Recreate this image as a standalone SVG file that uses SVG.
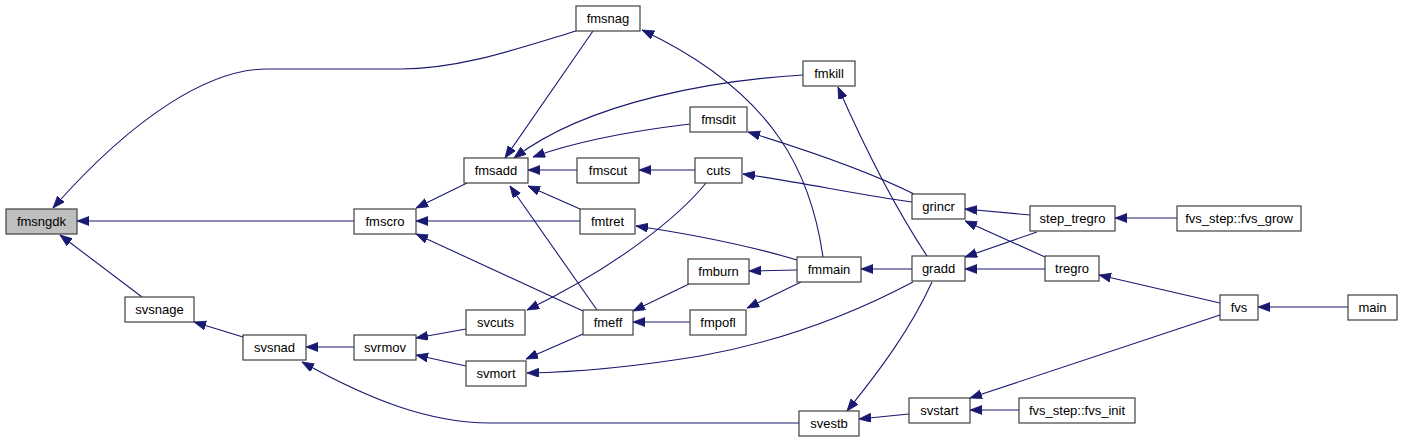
<svg xmlns="http://www.w3.org/2000/svg" width="1416" height="443" viewBox="0 0 1416 443">
<style>
.n rect{fill:#ffffff;stroke:#404040;stroke-width:1.2}
.n.g rect{fill:#bfbfbf}
.n text{font-family:"Liberation Sans",Arial,sans-serif;font-size:13px;fill:#000;text-anchor:middle}
#edges path{fill:none;stroke:#191970;stroke-width:1.1;marker-end:url(#ah)}
</style>
<defs>
<marker id="ah" markerUnits="userSpaceOnUse" markerWidth="13" markerHeight="10" refX="12" refY="4.5" orient="auto">
<path d="M0,0 L12,4.5 L0,9 z" fill="#191970" stroke="#191970" stroke-width="0.8"/>
</marker>
</defs>
<rect width="1416" height="443" fill="#ffffff"/>
<g id="edges">
<path d="M576,31 C520,48 460,69 400,69 L267,69 C210,69 135,115 53,208"/>
<path d="M354,221 L77,221"/>
<path d="M142,297 L60,235"/>
<path d="M467,183 L416,208"/>
<path d="M580,221 L416,221"/>
<path d="M583,311 L416,234"/>
<path d="M593,31 L505,158"/>
<path d="M803,75 C720,80 590,100 514,158"/>
<path d="M690,124 C640,130 580,140 533,157"/>
<path d="M577,170 L528,170"/>
<path d="M580,209 L528,186"/>
<path d="M597,310 L510,186"/>
<path d="M695,170 L639,170"/>
<path d="M706,183 C680,215 620,265 527,310"/>
<path d="M912,202 C860,195 800,182 743,174"/>
<path d="M914,194 C870,172 800,148 748,132"/>
<path d="M823,257 C812,180 780,95 642,30"/>
<path d="M927,256 C900,215 870,160 838,87"/>
<path d="M797,260 C750,246 690,234 636,226"/>
<path d="M797,270 L749,271"/>
<path d="M801,282 L747,308"/>
<path d="M689,284 L633,311"/>
<path d="M690,322 L633,322"/>
<path d="M583,334 L526,359"/>
<path d="M913,282 C860,310 790,340 700,356 C640,366 580,372 527,373"/>
<path d="M912,269 L861,269"/>
<path d="M932,282 C910,330 880,370 847,411"/>
<path d="M909,414 L859,419"/>
<path d="M799,423 L490,423 C430,423 370,400 302,362"/>
<path d="M354,347 L306,347"/>
<path d="M243,337 L194,322"/>
<path d="M466,329 L416,338"/>
<path d="M466,366 L416,355"/>
<path d="M1030,215 L965,209"/>
<path d="M1045,257 L965,221"/>
<path d="M1037,232 L965,257"/>
<path d="M1045,269 L965,269"/>
<path d="M1177,218 L1115,218"/>
<path d="M1220,303 L1099,275"/>
<path d="M1348,307 L1258,307"/>
<path d="M1220,315 L970,398"/>
<path d="M1019,410 L970,410"/>
</g>
<g id="fmsngdk" class="n g"><rect x="6" y="209" width="71" height="25"/><text x="41.5" y="226">fmsngdk</text></g>
<g id="fmscro" class="n"><rect x="354" y="209" width="62" height="25"/><text x="385" y="226">fmscro</text></g>
<g id="fmsnag" class="n"><rect x="576" y="6" width="64" height="25"/><text x="608" y="23">fmsnag</text></g>
<g id="fmkill" class="n"><rect x="803" y="61" width="52" height="25"/><text x="829" y="78">fmkill</text></g>
<g id="fmsdit" class="n"><rect x="690" y="107" width="57" height="25"/><text x="718.5" y="124">fmsdit</text></g>
<g id="fmsadd" class="n"><rect x="464" y="158" width="64" height="25"/><text x="496" y="175">fmsadd</text></g>
<g id="fmscut" class="n"><rect x="577" y="158" width="62" height="25"/><text x="608" y="175">fmscut</text></g>
<g id="cuts" class="n"><rect x="695" y="158" width="47" height="25"/><text x="718.5" y="175">cuts</text></g>
<g id="fmtret" class="n"><rect x="580" y="209" width="55" height="25"/><text x="607.5" y="226">fmtret</text></g>
<g id="grincr" class="n"><rect x="912" y="194" width="53" height="25"/><text x="938.5" y="211">grincr</text></g>
<g id="step_tregro" class="n"><rect x="1030" y="206" width="85" height="25"/><text x="1072.5" y="223">step_tregro</text></g>
<g id="fvs_grow" class="n"><rect x="1177" y="206" width="124" height="25"/><text x="1239" y="223">fvs_step::fvs_grow</text></g>
<g id="gradd" class="n"><rect x="912" y="256" width="53" height="25"/><text x="938.5" y="273">gradd</text></g>
<g id="tregro" class="n"><rect x="1045" y="256" width="54" height="25"/><text x="1072" y="273">tregro</text></g>
<g id="fvs" class="n"><rect x="1220" y="295" width="38" height="25"/><text x="1239" y="312">fvs</text></g>
<g id="main" class="n"><rect x="1348" y="295" width="49" height="25"/><text x="1372.5" y="312">main</text></g>
<g id="svsnage" class="n"><rect x="125" y="297" width="69" height="25"/><text x="159.5" y="314">svsnage</text></g>
<g id="svsnad" class="n"><rect x="243" y="335" width="63" height="25"/><text x="274.5" y="352">svsnad</text></g>
<g id="svrmov" class="n"><rect x="354" y="335" width="62" height="25"/><text x="385" y="352">svrmov</text></g>
<g id="svcuts" class="n"><rect x="466" y="310" width="59" height="25"/><text x="495.5" y="327">svcuts</text></g>
<g id="svmort" class="n"><rect x="466" y="361" width="60" height="25"/><text x="496" y="378">svmort</text></g>
<g id="fmeff" class="n"><rect x="583" y="310" width="50" height="25"/><text x="608" y="327">fmeff</text></g>
<g id="fmburn" class="n"><rect x="688" y="259" width="61" height="25"/><text x="718.5" y="276">fmburn</text></g>
<g id="fmpofl" class="n"><rect x="690" y="310" width="56" height="25"/><text x="718" y="327">fmpofl</text></g>
<g id="fmmain" class="n"><rect x="797" y="257" width="64" height="25"/><text x="829" y="274">fmmain</text></g>
<g id="svestb" class="n"><rect x="799" y="411" width="60" height="25"/><text x="829" y="428">svestb</text></g>
<g id="svstart" class="n"><rect x="909" y="398" width="61" height="25"/><text x="939.5" y="415">svstart</text></g>
<g id="fvs_init" class="n"><rect x="1019" y="398" width="116" height="25"/><text x="1077" y="415">fvs_step::fvs_init</text></g>
</svg>
